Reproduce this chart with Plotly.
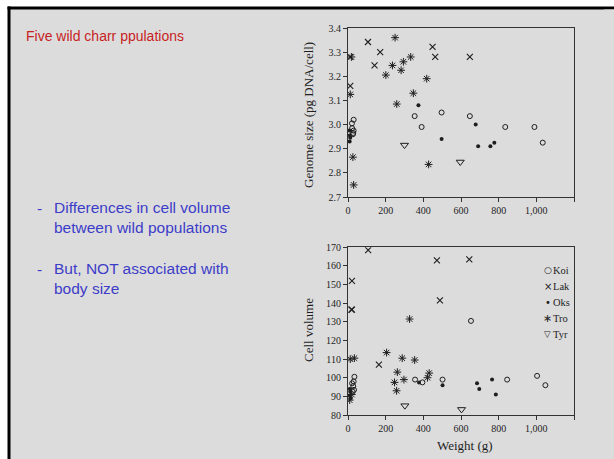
import plotly.graph_objects as go

W, H = 614, 459

# ---- data: top panel (genome size vs weight) ----
g_koi_w = [354, 391, 497, 647, 835, 990, 1034, 30, 21, 30, 26, 22, 28]
g_koi_v = [3.035, 2.99, 3.05, 3.035, 2.99, 2.99, 2.925, 3.02, 3.005, 2.975, 2.96, 2.985, 2.965]
g_lak_w = [106, 171, 141, 449, 463, 647, 12, 12]
g_lak_v = [3.342, 3.30, 3.245, 3.322, 3.28, 3.28, 3.28, 3.16]
g_oks_w = [374, 497, 678, 691, 756, 777, 8, 10, 9, 12]
g_oks_v = [3.08, 2.94, 3.0, 2.91, 2.91, 2.925, 2.975, 2.955, 2.93, 2.945]
g_tro_w = [250, 236, 201, 294, 282, 333, 418, 347, 259, 12, 26, 30, 428, 18]
g_tro_v = [3.36, 3.245, 3.205, 3.26, 3.225, 3.28, 3.19, 3.13, 3.085, 3.125, 2.865, 2.75, 2.835, 3.28]
g_tyr_w = [300, 596]
g_tyr_v = [2.915, 2.845]

# ---- data: bottom panel (cell volume vs weight) ----
c_koi_w = [653, 356, 395, 502, 845, 1004, 1048, 34, 30, 28, 32, 25, 22]
c_koi_v = [130.5, 99, 97.5, 99, 99, 101, 96, 100.5, 98, 95.5, 93.5, 92.5, 97]
c_lak_w = [107, 21, 21, 472, 644, 488, 164, 18]
c_lak_v = [168.5, 152, 136.5, 163, 163.5, 141.5, 107, 136.5]
c_oks_w = [377, 502, 685, 697, 765, 785, 9, 12, 14, 10]
c_oks_v = [97.5, 96, 97, 94, 99, 91, 90.5, 92.5, 89, 94]
c_tro_w = [12, 34, 327, 205, 288, 354, 262, 247, 297, 258, 431, 422, 9, 20]
c_tro_v = [110, 110.5, 131.5, 113.5, 110.5, 109.5, 103, 97.5, 99, 93, 102.5, 100, 88, 91]
c_tyr_w = [302, 603]
c_tyr_v = [85, 83]

populations = ["Koi", "Lak", "Oks", "Tro", "Tyr"]
legend_glyphs = ["○", "×", "•", "∗", "▽"]
x_ticks = [0, 200, 400, 600, 800, 1000, 1200]
x_ticktext = ["0", "200", "400", "600", "800", "1,000", ""]
g_ticks = [2.7, 2.8, 2.9, 3.0, 3.1, 3.2, 3.3, 3.4]
g_ticktext = ["2.7", "2.8", "2.9", "3.0", "3.1", "3.2", "3.3", "3.4"]
c_ticks = [80, 90, 100, 110, 120, 130, 140, 150, 160, 170]

INK = "#1e1e1e"
GRAY = "#dcdcdc"
styles = {
    "Koi": dict(symbol="circle-open", size=5, line=dict(width=1, color=INK)),
    "Lak": dict(symbol="x-thin-open", size=6, line=dict(width=1.1, color=INK)),
    "Oks": dict(symbol="circle", size=4, line=dict(width=0)),
    "Tro": dict(symbol="asterisk-open", size=6.5, line=dict(width=1, color=INK)),
    "Tyr": dict(symbol="triangle-down-open", size=7, line=dict(width=1, color=INK)),
}

top = {"Koi": (g_koi_w, g_koi_v), "Lak": (g_lak_w, g_lak_v), "Oks": (g_oks_w, g_oks_v),
       "Tro": (g_tro_w, g_tro_v), "Tyr": (g_tyr_w, g_tyr_v)}
bot = {"Koi": (c_koi_w, c_koi_v), "Lak": (c_lak_w, c_lak_v), "Oks": (c_oks_w, c_oks_v),
       "Tro": (c_tro_w, c_tro_v), "Tyr": (c_tyr_w, c_tyr_v)}

fig = go.Figure()
for p in populations:
    x, y = top[p]
    fig.add_trace(go.Scatter(x=x, y=y, mode="markers", name=p, showlegend=False,
                             marker=dict(color=INK, **styles[p]), xaxis="x", yaxis="y"))
for p in populations:
    x, y = bot[p]
    fig.add_trace(go.Scatter(x=x, y=y, mode="markers", name=p, showlegend=False,
                             marker=dict(color=INK, **styles[p]), xaxis="x2", yaxis="y2"))


def px(v):
    return v / W


def py(v):
    return 1 - v / H


serif = "Liberation Serif"
sans = "Liberation Sans"
axis_common = dict(showline=True, linecolor="#333", linewidth=1, mirror=True,
                   ticks="outside", ticklen=4, tickcolor="#333", showgrid=False,
                   zeroline=False, tickfont=dict(family=serif, size=10, color=INK))

annotations = [
    dict(text="Five wild charr ppulations", x=px(24), y=py(36), xanchor="left",
         font=dict(family=sans, size=14, color="#c81e1e")),
    dict(text="-", x=px(35), y=py(208), xanchor="left",
         font=dict(family=sans, size=15.5, color="#3c3cc8")),
    dict(text="Differences in cell volume<br>between wild populations", x=px(52), y=py(217.5),
         xanchor="left", align="left", font=dict(family=sans, size=15.5, color="#3c3cc8")),
    dict(text="-", x=px(35), y=py(269), xanchor="left",
         font=dict(family=sans, size=15.5, color="#3c3cc8")),
    dict(text="But, NOT associated with<br>body size", x=px(52), y=py(278.5),
         xanchor="left", align="left", font=dict(family=sans, size=15.5, color="#3c3cc8")),
    dict(text="Genome size (pg DNA/cell)", x=px(309), y=py(115), textangle=-90,
         font=dict(family=serif, size=13, color=INK)),
    dict(text="Cell volume", x=px(308), y=py(330), textangle=-90,
         font=dict(family=serif, size=13, color=INK)),
    dict(text="Weight (g)", x=px(465), y=py(445),
         font=dict(family=serif, size=13, color=INK)),
]
glyph_sizes = {"○": 9, "×": 10, "•": 10, "∗": 11, "▽": 8.5}
for i, (name, glyph) in enumerate(zip(populations, legend_glyphs)):
    yy = 270 + 16 * i
    annotations.append(dict(text=glyph, x=px(547.5), y=py(yy),
                            font=dict(family="DejaVu Sans", size=glyph_sizes[glyph], color=INK)))
    annotations.append(dict(text=name, x=px(551), y=py(yy), xanchor="left",
                            font=dict(family=serif, size=10.5, color=INK)))
for a in annotations:
    a.setdefault("xref", "paper")
    a.setdefault("yref", "paper")
    a.setdefault("showarrow", False)
    a.setdefault("xanchor", "center")
    a.setdefault("yanchor", "middle")

fig.update_layout(
    width=W, height=H,
    margin=dict(l=0, r=0, t=0, b=0, autoexpand=False),
    paper_bgcolor=GRAY, plot_bgcolor="rgba(0,0,0,0)",
    showlegend=False,
    xaxis=dict(domain=[px(348), px(574)], range=[0, 1200], anchor="y",
               tickvals=x_ticks, ticktext=x_ticktext, **axis_common),
    yaxis=dict(domain=[py(197), py(28)], range=[2.7, 3.4], anchor="x",
               tickvals=g_ticks, ticktext=g_ticktext, **axis_common),
    xaxis2=dict(domain=[px(348), px(574)], range=[0, 1200], anchor="y2",
                tickvals=x_ticks, ticktext=x_ticktext, **axis_common),
    yaxis2=dict(domain=[py(415), py(247.3)], range=[80, 170], anchor="x2",
                tickvals=c_ticks, **axis_common),
    shapes=[
        # white slide surround (top and left strips)
        dict(type="rect", xref="paper", yref="paper", x0=0, x1=1, y0=py(7.5), y1=1,
             fillcolor="white", line=dict(width=0), layer="below"),
        dict(type="rect", xref="paper", yref="paper", x0=0, x1=px(8), y0=0, y1=1,
             fillcolor="white", line=dict(width=0), layer="below"),
        # black slide border on left and top
        dict(type="line", xref="paper", yref="paper", x0=px(9), x1=px(9), y0=0, y1=py(6.5),
             line=dict(color="black", width=3), layer="below"),
        dict(type="line", xref="paper", yref="paper", x0=px(7.5), x1=1, y0=py(8), y1=py(8),
             line=dict(color="black", width=3), layer="below"),
        # plain slide background along the right edge
        dict(type="rect", xref="paper", yref="paper", x0=px(604), x1=1, y0=0, y1=py(9.6),
             fillcolor=GRAY, line=dict(width=0), layer="above"),
    ],
    annotations=annotations,
)

fig.write_html(
    "out.html",
    config={"displayModeBar": False},
    post_script=("document.body.style.margin='0';"
                 "document.body.style.overflow='hidden';"
                 "document.documentElement.style.overflow='hidden';"),
)
